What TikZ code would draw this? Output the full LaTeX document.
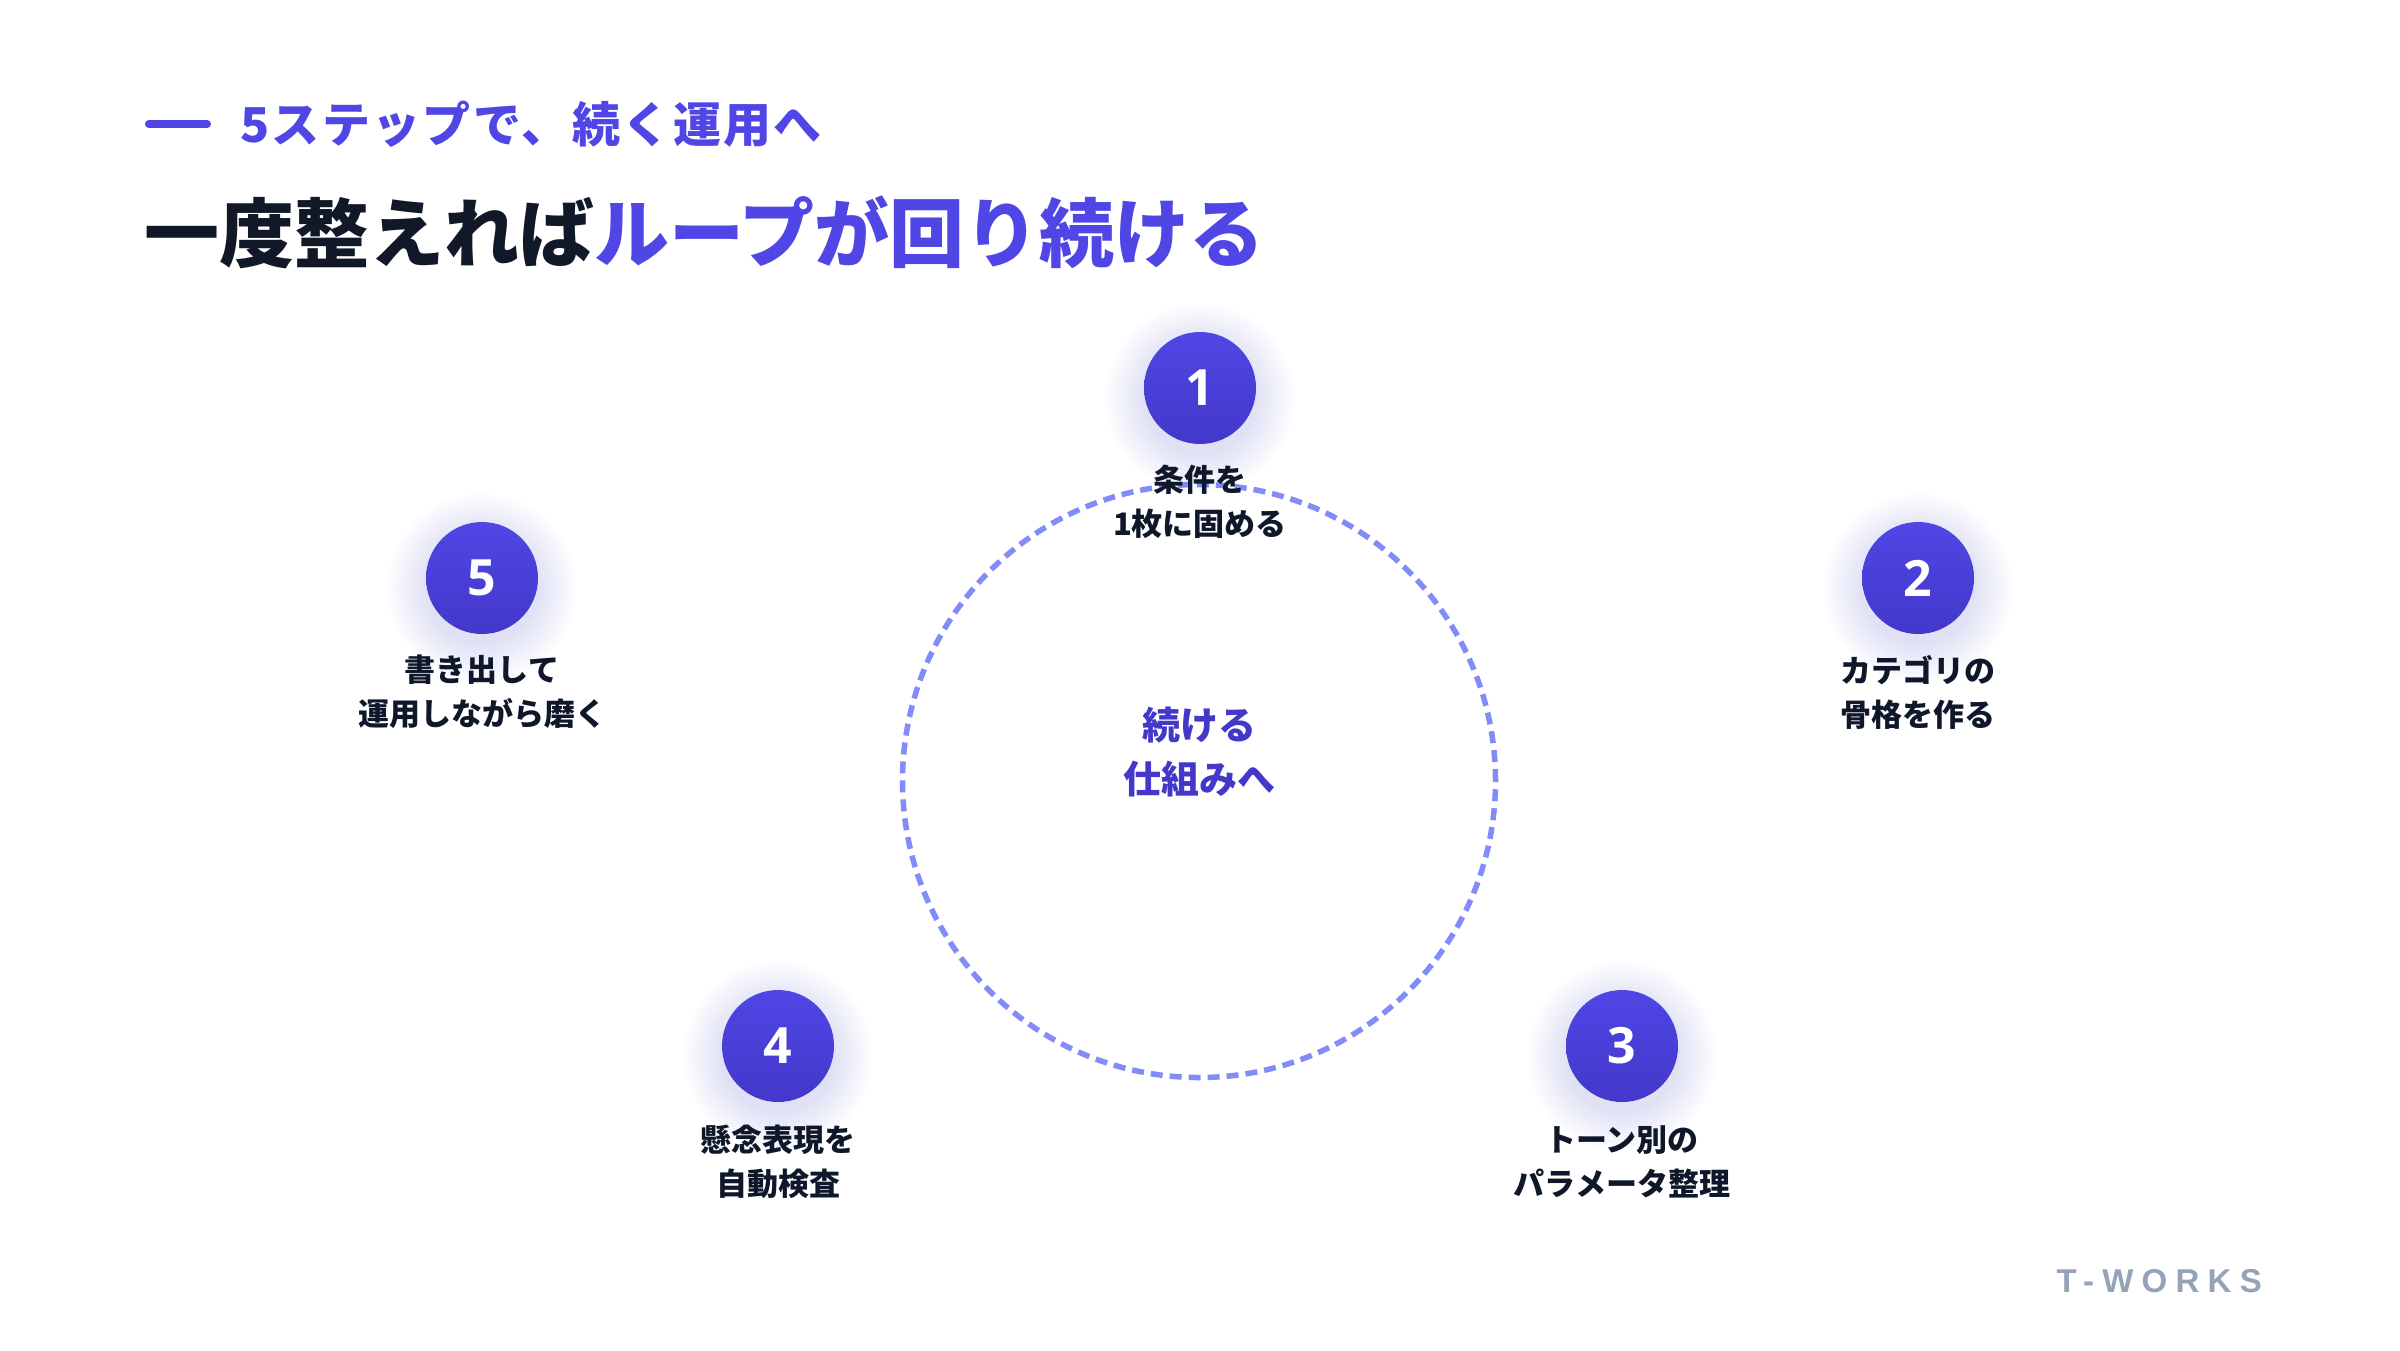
\documentclass[tikz,border=0pt]{standalone}
\usepackage{fontspec}
\newfontfamily\jp{Noto Sans CJK JP}
\newfontfamily\jpsub{Noto Sans CJK JP}[LetterSpace=5]
\newfontfamily\numfont{Open Sans}
\newfontfamily\brandfont{Liberation Sans}[LetterSpace=25]
\definecolor{ink}{HTML}{111827}
\definecolor{labelink}{HTML}{0F172A}
\definecolor{brand}{HTML}{4F46E5}
\definecolor{branddeep}{HTML}{4338CA}
\definecolor{ringc}{HTML}{818CF8}
\definecolor{glowc}{HTML}{6366F1}
\definecolor{mutedc}{HTML}{94A3B8}
\tikzset{
  stepdot/.style={circle, minimum size=112pt, inner sep=0pt, top color=brand, bottom color=branddeep, draw=none, text=white, font=\numfont\bfseries\fontsize{50}{50}\selectfont},
  steplabel/.style={align=center, text=labelink, font=\jp\bfseries\fontsize{31}{44}\selectfont, inner sep=0pt},
  ring/.style={draw=ringc, line width=5.5pt, dash pattern=on 12pt off 7pt},
}
\newcommand\glowat[1]{%
  \foreach \r in {58,62,...,94}{\fill[glowc, opacity=0.018] ([yshift=-10pt]#1) circle (\r pt);}%
}
\begin{document}
\begin{tikzpicture}[x=1pt,y=-1pt]
\useasboundingbox (0,0) rectangle (2400,1350);
\fill[white] (0,0) rectangle (2400,1350);
% header
\draw[brand, line width=8pt, line cap=round] (149,124) -- (207,124);
\node[anchor=west, inner sep=0pt, text=brand, font=\jpsub\bfseries\fontsize{48}{48}\selectfont] (sub) at (240,124) {5ステップで、続く運用へ};
\node[anchor=west, inner sep=0pt, font=\jp\bfseries\fontsize{75}{75}\selectfont] (title) at (144,232) {\textcolor{ink}{一度整えれば}\textcolor{brand}{ループが回り続ける}};
% dashed loop
\node[circle, minimum size=593pt, inner sep=0pt, ring] (loop) at (1199,781) {};
\node[align=center, text=branddeep, font=\jp\bfseries\fontsize{38}{54}\selectfont, inner sep=0pt] (core) at (1199,752) {続ける\\仕組みへ};
% step positions
\coordinate (p1) at (1200,388);
\coordinate (p2) at (1918,578);
\coordinate (p3) at (1622,1046);
\coordinate (p4) at (778,1046);
\coordinate (p5) at (482,578);
\glowat{p1}\glowat{p2}\glowat{p3}\glowat{p4}\glowat{p5}
\node[stepdot] (s1) at (p1) {1};
\node[stepdot] (s2) at (p2) {2};
\node[stepdot] (s3) at (p3) {3};
\node[stepdot] (s4) at (p4) {4};
\node[stepdot] (s5) at (p5) {5};
\node[steplabel] (l1) at (1200,502) {条件を\\1枚に固める};
\node[steplabel] (l2) at (1918,692) {カテゴリの\\骨格を作る};
\node[steplabel] (l3) at (1622,1162) {トーン別の\\パラメータ整理};
\node[steplabel] (l4) at (778,1162) {懸念表現を\\自動検査};
\node[steplabel] (l5) at (482,692) {書き出して\\運用しながら磨く};
% brand
\node[anchor=east, inner sep=0pt, text=mutedc, font=\brandfont\bfseries\fontsize{33}{33}\selectfont] (brandmark) at (2262,1281) {T-WORKS};
\end{tikzpicture}
\end{document}
